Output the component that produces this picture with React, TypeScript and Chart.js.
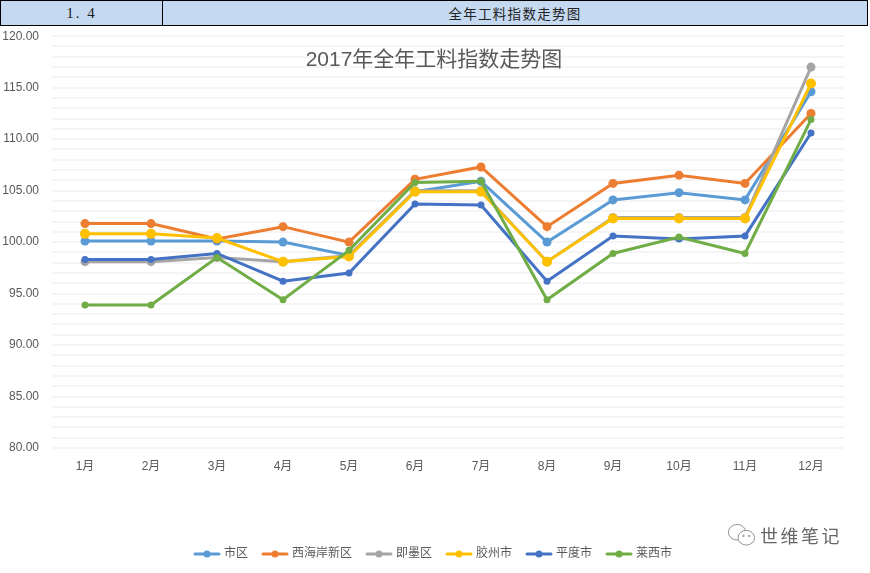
import React, { useEffect, useRef } from "react";
import { Chart, registerables } from "chart.js";

Chart.register(...registerables);

const months = ["1月", "2月", "3月", "4月", "5月", "6月", "7月", "8月", "9月", "10月", "11月", "12月"];
const shiqu = [100.1, 100.1, 100.1, 100.0, 98.7, 104.9, 105.9, 100.0, 104.1, 104.8, 104.1, 114.6];
const xihaian = [101.8, 101.8, 100.3, 101.5, 100.0, 106.1, 107.3, 101.5, 105.7, 106.5, 105.7, 112.5];
const jimo = [98.1, 98.1, 98.5, 98.1, 98.7, 105.0, 105.0, 98.1, 102.4, 102.4, 102.4, 117.0];
const jiaozhou = [100.8, 100.8, 100.4, 98.1, 98.6, 104.9, 104.9, 98.1, 102.3, 102.3, 102.3, 115.4];
const pingdu = [98.3, 98.3, 98.9, 96.2, 97.0, 103.7, 103.6, 96.2, 100.6, 100.3, 100.6, 110.6];
const laixi = [93.9, 93.9, 98.5, 94.4, 99.2, 105.8, 105.9, 94.4, 98.9, 100.5, 98.9, 111.9];

const FONT = '"Liberation Sans", "Noto Sans CJK SC", sans-serif';
const TEXT = "#595959";

const seriesDefs = [
  { label: "市区", data: shiqu, color: "#5b9bd5", r: 4.5 },
  { label: "西海岸新区", data: xihaian, color: "#ed7d31", r: 4.5 },
  { label: "即墨区", data: jimo, color: "#a5a5a5", r: 4.5 },
  { label: "胶州市", data: jiaozhou, color: "#ffc000", r: 5 },
  { label: "平度市", data: pingdu, color: "#4472c4", r: 3.5 },
  { label: "莱西市", data: laixi, color: "#70ad47", r: 3.5 },
];

function legendMark(color: string) {
  const c = document.createElement("canvas");
  c.width = 28;
  c.height = 10;
  const g = c.getContext("2d")!;
  g.strokeStyle = color;
  g.lineWidth = 3;
  g.lineCap = "round";
  g.beginPath();
  g.moveTo(2, 5);
  g.lineTo(26, 5);
  g.stroke();
  g.fillStyle = color;
  g.beginPath();
  g.arc(14, 5, 3.5, 0, Math.PI * 2);
  g.fill();
  return c;
}

export default function App() {
  const ref = useRef<HTMLCanvasElement>(null);
  useEffect(() => {
    const marks = seriesDefs.map((s) => legendMark(s.color));
    const chart = new Chart(ref.current!, {
      type: "line",
      data: {
        labels: months,
        datasets: seriesDefs.map((s, i) => ({
          label: s.label,
          data: s.data,
          order: seriesDefs.length - i,
          yAxisID: "y",
          borderColor: s.color,
          backgroundColor: s.color,
          borderWidth: 3,
          pointRadius: s.r,
          pointBackgroundColor: s.color,
          pointBorderColor: s.color,
          pointBorderWidth: 0,
          tension: 0,
          fill: false,
        })),
      },
      options: {
        animation: false,
        responsive: false,
        layout: { padding: { top: 36, left: 0, right: 2, bottom: 3 } },
        plugins: {
          tooltip: { enabled: false },
          title: {
            display: true,
            text: "2017年全年工料指数走势图",
            color: TEXT,
            font: { family: FONT, size: 21, weight: "normal" },
            padding: { top: 12, bottom: -37 },
          },
          legend: {
            position: "bottom",
            labels: {
              usePointStyle: true,
              pointStyleWidth: 22,
              boxHeight: 12,
              padding: 16,
              color: TEXT,
              font: { family: FONT, size: 12 },
              sort: (a: any, b: any) => a.datasetIndex - b.datasetIndex,
              generateLabels: (c: any) =>
                Chart.defaults.plugins.legend.labels
                  .generateLabels(c)
                  .map((l: any) => ({ ...l, pointStyle: marks[l.datasetIndex] })),
            },
          },
        },
        scales: {
          x: {
            offset: true,
            grid: { display: false },
            border: { display: false },
            afterFit: (s: any) => {
              s.height = 84;
            },
            ticks: {
              color: TEXT,
              padding: 3,
              maxRotation: 0,
              font: { family: FONT, size: 12 },
            },
          },
          y: {
            min: 80,
            max: 120,
            afterFit: (s: any) => {
              s.width = 52;
            },
            border: { display: false },
            grid: { color: "#f5f5f5", lineWidth: 2, drawTicks: false },
            ticks: {
              stepSize: 1,
              autoSkip: false,
              padding: 13,
              color: TEXT,
              font: { family: FONT, size: 12 },
              callback: (v: any) => (Number(v) % 5 === 0 ? Number(v).toFixed(2) : ""),
            },
          },
          spacer: {
            type: "linear",
            position: "right",
            afterFit: (s: any) => {
              s.width = 24;
            },
            border: { display: false },
            grid: { display: false },
            ticks: { display: false },
          },
        },
      },
    } as any);
    return () => chart.destroy();
  }, []);

  return (
    <div style={{ position: "absolute", left: 0, top: 0, width: 870, height: 573, background: "#fff", overflow: "hidden" }}>
      <canvas ref={ref} width={870} height={573} style={{ position: "absolute", left: 0, top: 0, display: "block" }} />
      <div
        style={{
          position: "absolute", left: 0, top: 0, width: 868, height: 26, boxSizing: "border-box",
          background: "#c5d9f1", border: "1px solid #000", display: "flex", color: "#222",
          fontFamily: '"Noto Sans CJK SC", sans-serif', fontSize: 13.5, letterSpacing: 1.3, lineHeight: "24px",
        }}
      >
        <div style={{ width: 161, borderRight: "1px solid #000", textAlign: "center", fontFamily: '"Liberation Serif", serif', fontSize: 15, letterSpacing: 2 }}>1. 4</div>
        <div style={{ flex: 1, textAlign: "center" }}>全年工料指数走势图</div>
      </div>
      <div style={{ position: "absolute", left: 727, top: 520, display: "flex", alignItems: "center", color: "#666", fontFamily: '"Noto Sans CJK SC", sans-serif', fontSize: 18 }}>
        <svg width="33" height="30" viewBox="0 0 36 30" fill="none" stroke="#888" strokeWidth="1">
          <ellipse cx="11" cy="12" rx="9.5" ry="8.5" />
          <ellipse cx="21" cy="18" rx="9" ry="8" fill="#fff" />
          <circle cx="18" cy="16" r="0.8" />
          <circle cx="24" cy="16" r="0.8" />
        </svg>
        <span style={{ letterSpacing: 2.5 }}>世维笔记</span>
      </div>
    </div>
  );
}
